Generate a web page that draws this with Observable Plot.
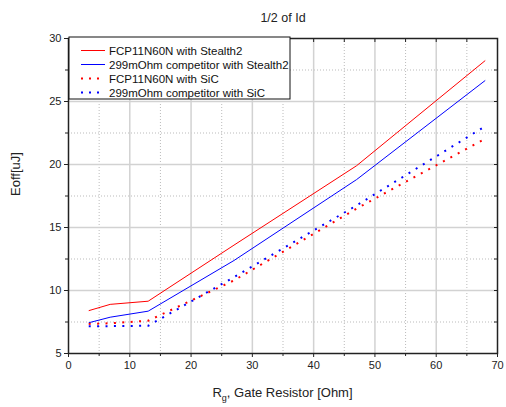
<!DOCTYPE html>
<html><head><meta charset="utf-8">
<script src="https://cdn.jsdelivr.net/npm/d3@7"></script>
<script src="https://cdn.jsdelivr.net/npm/@observablehq/plot@0.6"></script>
<style>
body{margin:0;background:#fff;}
#chart svg{font-family:Arial,"Liberation Sans",sans-serif;display:block;}
</style></head><body><div id="chart"></div>
<script>
const title = "1/2 of Id";
const yLabel = "Eoff[uJ]";
const xLabelMain = "R";
const xLabelSub = "g";
const xLabelRest = ", Gate Resistor [Ohm]";

const rg = [3.3, 6.8, 13, 27, 47, 68];
const seriesNames = [
  "FCP11N60N with Stealth2",
  "299mOhm competitor with Stealth2",
  "FCP11N60N with SiC",
  "299mOhm competitor with SiC"
];
const fcpStealth2 = [8.4, 8.9, 9.15, 13.6, 19.9, 28.25];
const compStealth2 = [7.44, 7.88, 8.36, 12.38, 18.8, 26.67];
const fcpSiC = [7.35, 7.4, 7.6, 10.8, 16.5, 22.05];
const compSiC = [7.17, 7.17, 7.2, 11.06, 16.75, 23.04];
const seriesValues = [fcpStealth2, compStealth2, fcpSiC, compSiC];
const seriesColors = ["#ff0000", "#0000ff", "#ff0000", "#0000ff"];
const seriesDash = [null, null, "2,6.4", "2,6.4"];
const seriesWidth = [1, 1, 2, 2];

const xMajor = [0, 10, 20, 30, 40, 50, 60, 70];
const xMinor = [5, 15, 25, 35, 45, 55, 65];
const yMajor = [5, 10, 15, 20, 25, 30];
const yMinor = [7.5, 12.5, 17.5, 22.5, 27.5];

const rows = seriesValues.map((vals, i) => rg.map((x, j) => ({x, y: vals[j], s: seriesNames[i]})));

const lineMarks = rows.map((r, i) => Plot.line(r, {
  x: "x", y: "y", stroke: seriesColors[i], strokeWidth: seriesWidth[i],
  strokeDasharray: seriesDash[i] || undefined, strokeLinecap: "butt"
}));

const chart = Plot.plot({
  width: 506, height: 407,
  marginLeft: 68, marginRight: 9, marginTop: 38, marginBottom: 54,
  x: {domain: [0, 70]},
  y: {domain: [5, 30]},
  style: {fontFamily: "Arial, 'Liberation Sans', sans-serif", background: "#fff"},
  marks: [
    Plot.ruleX(xMinor, {stroke: "#bbb", strokeDasharray: "1,2"}),
    Plot.ruleY(yMinor, {stroke: "#bbb", strokeDasharray: "1,2"}),
    Plot.ruleX(xMajor.slice(1, -1), {stroke: "#d2d2d2", strokeWidth: 1.5}),
    Plot.ruleY(yMajor.slice(1, -1), {stroke: "#d2d2d2", strokeWidth: 1.5}),
    ...lineMarks,
    Plot.frame({stroke: "#222", strokeWidth: 1.5}),
    Plot.axisX(xMajor, {tickSize: 4, tickPadding: 4, fontSize: 11, label: null, color: "#222"}),
    Plot.axisX(xMinor, {tickSize: 3, text: null, label: null, color: "#222"}),
    Plot.axisX(xMajor.concat(xMinor), {anchor: "top", tickSize: -3, text: null, label: null, color: "#222"}),
    Plot.axisY(yMajor, {tickSize: 4, tickPadding: 3, fontSize: 11, label: null, color: "#222"}),
    Plot.axisY(yMinor, {tickSize: 3, text: null, label: null, color: "#222"}),
    Plot.axisY(yMajor.concat(yMinor), {anchor: "right", tickSize: -4, text: null, label: null, color: "#222"}),
    Plot.text([title], {frameAnchor: "top", dy: -25, fontSize: 12.5, fill: "#222"}),
    Plot.text([yLabel], {frameAnchor: "left", rotate: -90, dx: -53, fontSize: 13, fill: "#222"})
  ]
});
document.getElementById("chart").appendChild(chart);

const svg = d3.select(chart);
const xs = chart.scale("x");
// x-axis label with subscript
const xl = svg.append("text")
  .attr("x", xs.apply(35)).attr("y", 397)
  .attr("text-anchor", "middle")
  .attr("font-size", 13).attr("fill", "#222");
xl.append("tspan").text(xLabelMain);
xl.append("tspan").attr("dy", 4).attr("font-size", 9).text(xLabelSub);
xl.append("tspan").attr("dy", -4).text(xLabelRest);

// legend box
const lg = svg.append("g").attr("transform", "translate(69,37)");
lg.append("rect").attr("width", 221).attr("height", 62)
  .attr("fill", "#fff").attr("stroke", "#111").attr("stroke-width", 1);
seriesNames.forEach((name, i) => {
  const y = 13.5 + i * 14;
  lg.append("line").attr("x1", 12).attr("x2", 36).attr("y1", y).attr("y2", y)
    .attr("stroke", seriesColors[i]).attr("stroke-width", seriesWidth[i])
    .attr("stroke-dasharray", seriesDash[i] ? "2,6" : null);
  lg.append("text").attr("x", 40).attr("y", y).attr("dy", "0.35em")
    .attr("text-anchor", "start")
    .attr("font-size", 11.5).attr("fill", "#111").text(name);
});
</script>
</body></html>
